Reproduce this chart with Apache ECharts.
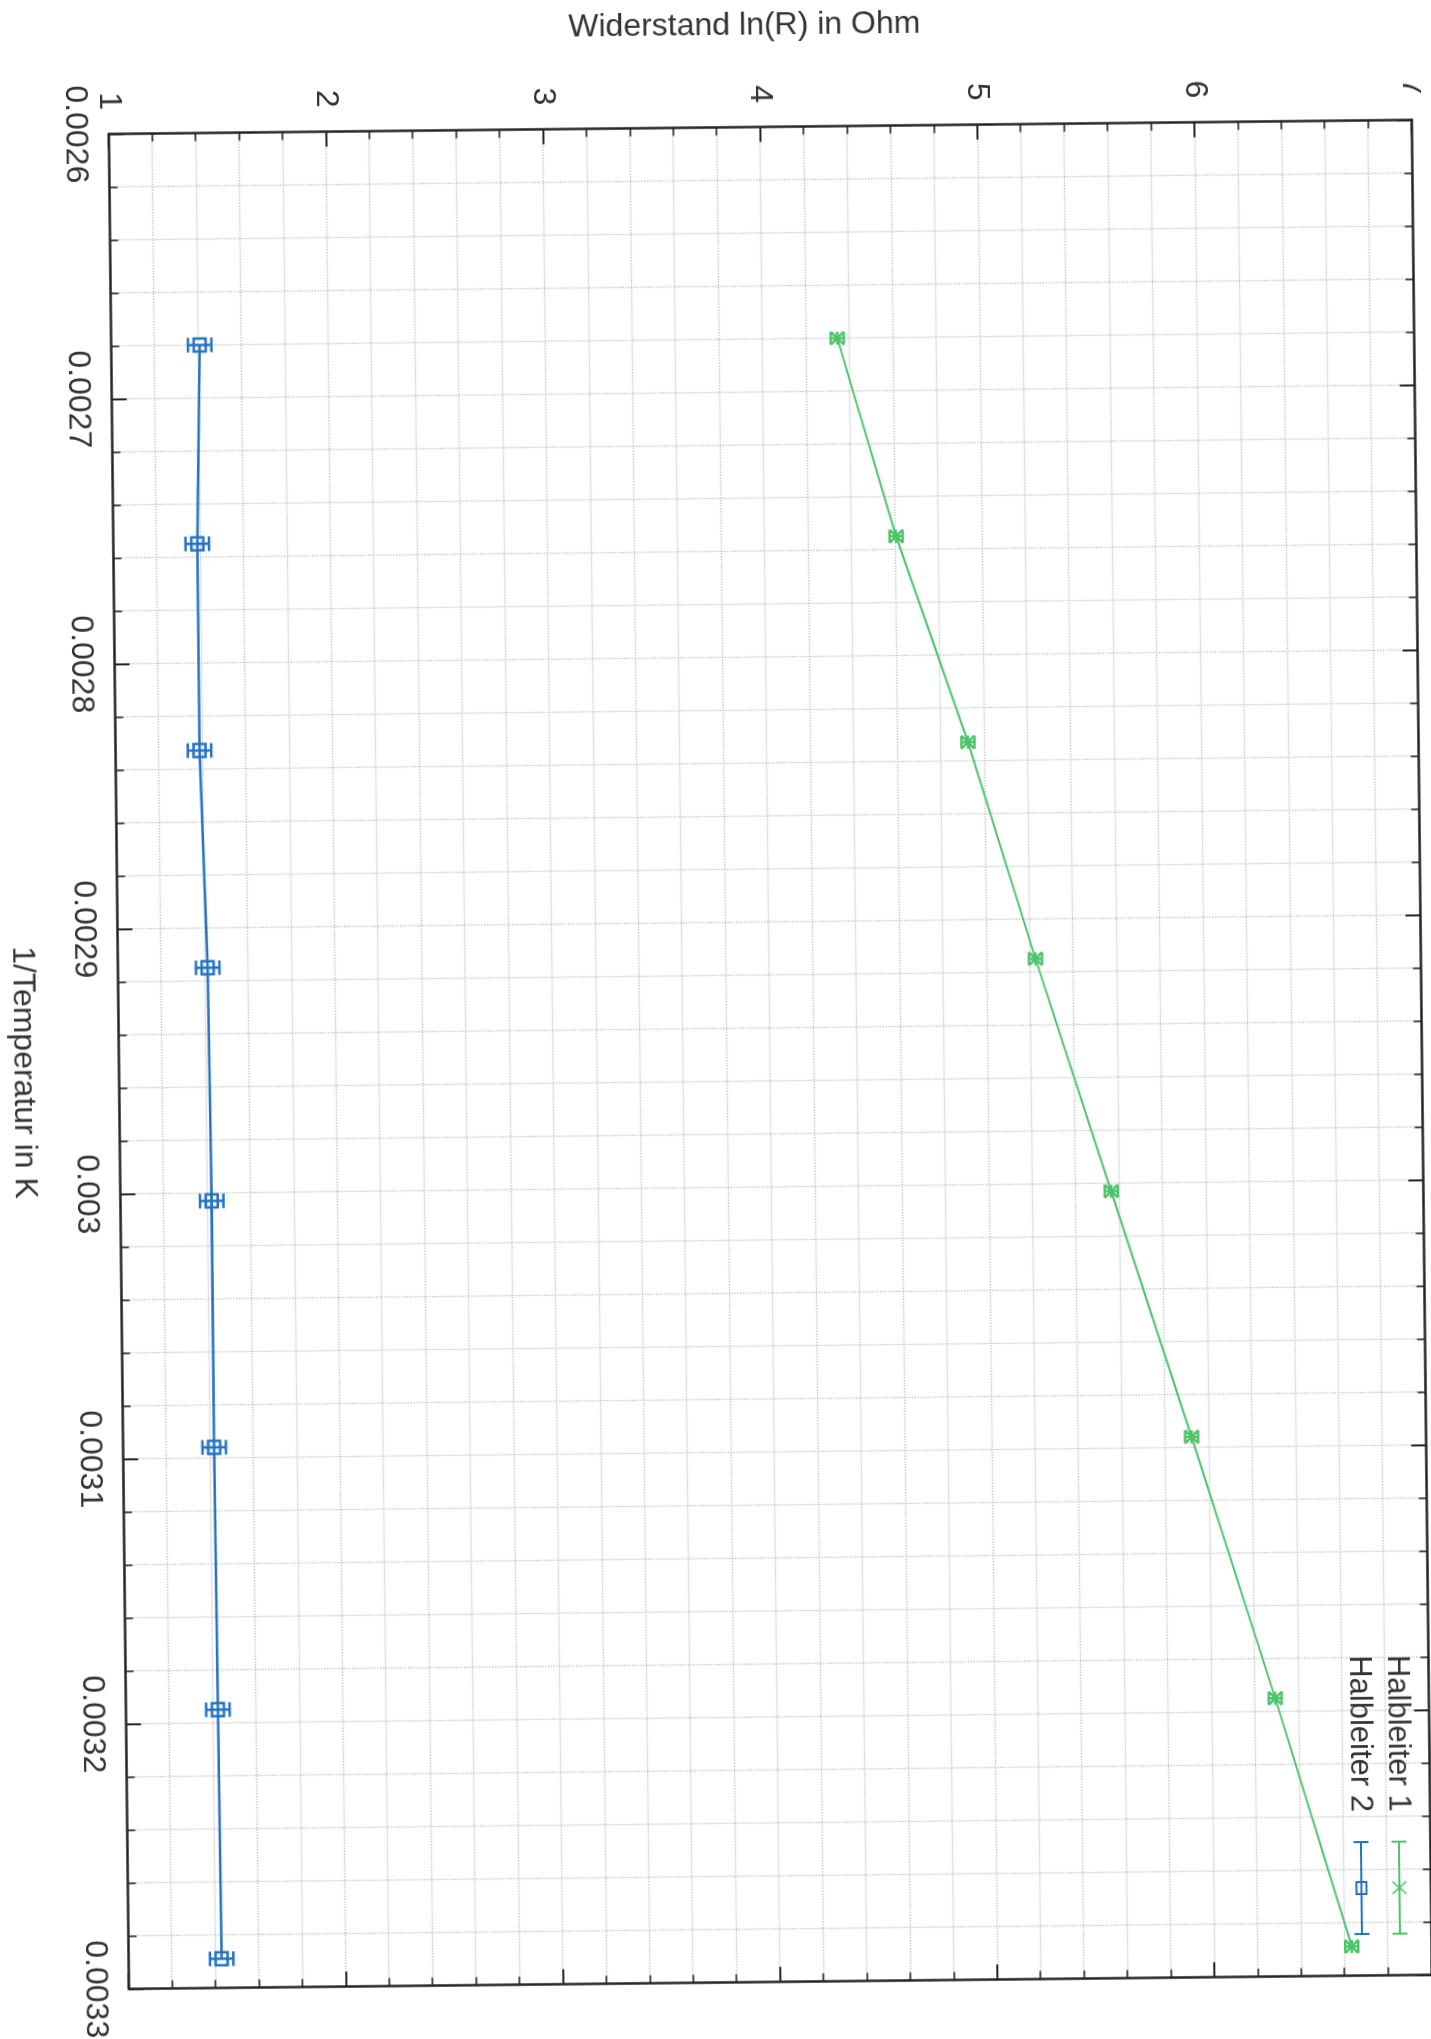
<!DOCTYPE html>
<html><head><meta charset="utf-8">
<script src="https://cdn.jsdelivr.net/npm/echarts@6/dist/echarts.min.js"></script>
<style>
html,body{margin:0;padding:0;width:1431px;height:2039px;overflow:hidden;background:#fff;}
#chart{position:absolute;left:-304px;top:304px;width:2039px;height:1431px;transform:rotate(89.38deg);transform-origin:50% 50%;}
</style></head><body><div id="chart"></div>
<script>
// ---- data ----
const invTemperature = [0.00268, 0.002755, 0.002833, 0.002915, 0.003003, 0.003096, 0.003195, 0.003289];
const lnR_Halbleiter1 = [4.343, 4.604, 4.925, 5.225, 5.562, 5.920, 6.292, 6.632];
const lnR_Halbleiter2 = [1.407, 1.386, 1.386, 1.413, 1.420, 1.419, 1.423, 1.428];
const err_Halbleiter1 = [0.03, 0.03, 0.03, 0.03, 0.03, 0.03, 0.03, 0.03];
const err_Halbleiter2 = [0.054, 0.054, 0.054, 0.054, 0.054, 0.054, 0.054, 0.054];
const seriesNames = ['Halbleiter 1', 'Halbleiter 2'];
const xTickLabels = ['0.0026', '0.0027', '0.0028', '0.0029', '0.003', '0.0031', '0.0032', '0.0033'];
const yTickLabels = ['1', '2', '3', '4', '5', '6', '7'];
const xAxisName = '1/Temperatur in K';
const yAxisName = 'Widerstand ln(R) in Ohm';

// ---- styles ----
const GREEN = '#4cc46a', BLUE = '#2372c6';
const FONT = "'Liberation Sans', Arial, Helvetica, sans-serif";
const TXT = '#333';
const AX = '#252525';
const GRID = '#c4c4c4';

function pts(ys, errs) { return invTemperature.map((t, i) => [t, ys[i], errs[i]]); }

function errRender(kind) {
  return function (params, api) {
    const x = api.value(0), y = api.value(1), e = api.value(2);
    const c = api.coord([x, y]);
    const t = api.coord([x, y + e]);
    const b = api.coord([x, y - e]);
    const color = api.visual('color');
    const cap = kind === 'x' ? 6.5 : 7.3;
    const lw = 2.5;
    const st = { stroke: color, lineWidth: lw, fill: null };
    const ch = [
      { type: 'line', shape: { x1: c[0], y1: t[1], x2: c[0], y2: b[1] }, style: st },
      { type: 'line', shape: { x1: c[0] - cap, y1: t[1], x2: c[0] + cap, y2: t[1] }, style: st },
      { type: 'line', shape: { x1: c[0] - cap, y1: b[1], x2: c[0] + cap, y2: b[1] }, style: st }
    ];
    if (kind === 'x') {
      const s = 6.5;
      ch.push({ type: 'line', shape: { x1: c[0] - s, y1: c[1] - s, x2: c[0] + s, y2: c[1] + s }, style: st });
      ch.push({ type: 'line', shape: { x1: c[0] - s, y1: c[1] + s, x2: c[0] + s, y2: c[1] - s }, style: st });
      ch.push({ type: 'line', shape: { x1: c[0] - s, y1: c[1], x2: c[0] + s, y2: c[1] }, style: st });
    } else {
      ch.push({ type: 'rect', shape: { x: c[0] - 6.5, y: c[1] - 6, width: 13, height: 12 }, style: st });
    }
    return { type: 'group', children: ch };
  };
}

const ICON1 = 'path://M0 6.5L94 6.5L94 8.5L0 8.5Z M0 0L2 0L2 15L0 15Z M92 0L94 0L94 15L92 15Z M40 0.5L42 0.5L54 14.5L52 14.5Z M52 0.5L54 0.5L42 14.5L40 14.5Z';
const ICON2 = 'path://M0 6.5L94 6.5L94 8.5L0 8.5Z M0 0L2 0L2 15L0 15Z M92 0L94 0L94 15L92 15Z M40 1.5L54 1.5L54 13.5L40 13.5Z M42 3.5L42 11.5L52 11.5L52 3.5Z';

function axisBase() {
  return {
    type: 'value',
    axisLine: { show: true, onZero: false, lineStyle: { color: AX, width: 2.5 } },
    axisTick: { show: true, inside: true, length: 15, lineStyle: { color: AX, width: 2 } },
    minorTick: { show: true, splitNumber: 5, length: 8, lineStyle: { color: AX, width: 1.6 } },
    nameMoveOverlap: false
  };
}

const xMain = Object.assign(axisBase(), {
  position: 'bottom', min: 0.0026, max: 0.0033, interval: 0.0001,
  splitLine: { show: true, lineStyle: { color: GRID, width: 1.4, type: 'dotted' } },
  minorSplitLine: { show: true, lineStyle: { color: GRID, width: 1.4, type: 'dotted' } },
  axisLabel: {
    show: true, margin: 18, fontSize: 32, color: TXT, fontFamily: FONT, showMinLabel: true, showMaxLabel: true,
    formatter: v => { const i = Math.round((v - 0.0026) / 0.0001); return xTickLabels[i] !== undefined ? xTickLabels[i] : ''; }
  },
  name: xAxisName, nameLocation: 'middle', nameGap: 80,
  nameTextStyle: { fontSize: 32, color: TXT, fontFamily: FONT, padding: [0, 0, 0, 20] }
});
const xTop = Object.assign(axisBase(), {
  position: 'top', min: 0.0026, max: 0.0033, interval: 0.0001,
  splitLine: { show: false }, axisLabel: { show: false }
});
const yMain = Object.assign(axisBase(), {
  position: 'left', min: 1, max: 7, interval: 1,
  splitLine: { show: true, lineStyle: { color: GRID, width: 1.4, type: 'dotted' } },
  minorSplitLine: { show: true, lineStyle: { color: GRID, width: 1.4, type: 'dotted' } },
  axisLabel: {
    show: true, margin: 24, fontSize: 32, color: TXT, fontFamily: FONT, showMinLabel: true, showMaxLabel: true,
    formatter: v => { const i = Math.round(v - 1); return yTickLabels[i] !== undefined ? yTickLabels[i] : ''; }
  },
  name: yAxisName, nameLocation: 'middle', nameGap: 85,
  nameTextStyle: { fontSize: 32, color: TXT, fontFamily: FONT, padding: [0, 30, 0, 0] }
});
const yRight = Object.assign(axisBase(), {
  position: 'right', min: 1, max: 7, interval: 1,
  splitLine: { show: false }, axisLabel: { show: false }
});

const chart = echarts.init(document.getElementById('chart'), null, { renderer: 'canvas' });
chart.setOption({
  backgroundColor: '#fff',
  animation: false,
  grid: { left: 127.5, right: 56.5, top: 9.4, bottom: 118.6, containLabel: false, outerBoundsMode: 'none' },
  xAxis: [xMain, xTop],
  yAxis: [yMain, yRight],
  legend: {
    orient: 'vertical', right: 97, top: 25, padding: 0, itemGap: 6, align: 'right',
    itemWidth: 94, itemHeight: 15, selectedMode: false,
    itemStyle: { borderWidth: 0 },
    textStyle: { fontSize: 31, lineHeight: 32, color: TXT, fontFamily: FONT, padding: [0, 24, 0, 0] },
    data: [{ name: seriesNames[0], icon: ICON1 }, { name: seriesNames[1], icon: ICON2 }]
  },
  series: [
    { name: seriesNames[0], type: 'line', xAxisIndex: 0, yAxisIndex: 0, data: pts(lnR_Halbleiter1, err_Halbleiter1).map(p => [p[0], p[1]]),
      showSymbol: false, symbol: 'none', color: GREEN, itemStyle: { color: GREEN }, lineStyle: { color: GREEN, width: 2 }, z: 2 },
    { name: seriesNames[0], type: 'custom', xAxisIndex: 0, yAxisIndex: 0, data: pts(lnR_Halbleiter1, err_Halbleiter1),
      encode: { x: 0, y: 1 }, renderItem: errRender('x'), color: GREEN, itemStyle: { color: GREEN }, z: 3 },
    { name: seriesNames[1], type: 'line', xAxisIndex: 0, yAxisIndex: 0, data: pts(lnR_Halbleiter2, err_Halbleiter2).map(p => [p[0], p[1]]),
      showSymbol: false, symbol: 'none', color: BLUE, itemStyle: { color: BLUE }, lineStyle: { color: BLUE, width: 2.5 }, z: 2 },
    { name: seriesNames[1], type: 'custom', xAxisIndex: 0, yAxisIndex: 0, data: pts(lnR_Halbleiter2, err_Halbleiter2),
      encode: { x: 0, y: 1 }, renderItem: errRender('box'), color: BLUE, itemStyle: { color: BLUE }, z: 3 }
  ]
});
</script></body></html>
